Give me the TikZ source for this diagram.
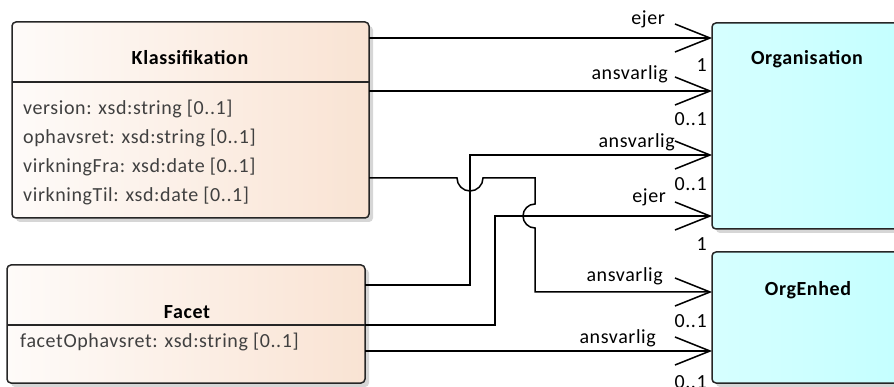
\documentclass[tikz,border=0pt]{standalone}
\usepackage{fontspec}
\setmainfont{Carlito}[LetterSpace=3]
\usetikzlibrary{arrows.meta,shadows}
\definecolor{klL}{RGB}{254,251,249}
\definecolor{klR}{RGB}{249,227,211}
\definecolor{orgL}{RGB}{214,255,255}
\definecolor{orgR}{RGB}{196,255,255}
\definecolor{attrc}{RGB}{64,64,64}
\definecolor{shadowgray}{RGB}{214,214,214}
\tikzset{
  boxline/.style={draw=black!85, line width=1.5pt},
  classbox/.style={boxline, rounded corners=4pt, inner sep=0pt, outer sep=0pt,
    left color=klL, right color=klR,
    general shadow={fill=shadowgray, shadow xshift=4pt, shadow yshift=-4pt}},
  orgbox/.style={boxline, rounded corners=4pt, inner sep=0pt, outer sep=0pt,
    left color=orgL, right color=orgR,
    general shadow={fill=shadowgray, shadow xshift=4pt, shadow yshift=-4pt}},
  titletxt/.style={font=\fontsize{20}{24}\selectfont\bfseries, inner sep=0pt, anchor=base},
  attrtxt/.style={font=\fontsize{20}{24}\selectfont, text=attrc, inner sep=0pt, anchor=base west},
  lbl/.style={font=\fontsize{20}{24}\selectfont, inner sep=0pt, anchor=base east},
  assoc/.style={line width=1.5pt, -{Straight Barb[length=35pt,width=28pt]}},
}
\begin{document}
\begin{tikzpicture}[x=1pt,y=-1pt]
\useasboundingbox (0,0) rectangle (894,387);
% row coordinates
\foreach \n/\yy in {a/38,b/91,c/155,d/178,e/216,f/285,g/292,h/325,i/351,k/82}
  {\coordinate (r\n) at (0,\yy);}
% boxes
\node[classbox, minimum width=357pt, minimum height=196pt] (klass) at (190.5,120) {};
\node[classbox, minimum width=358pt, minimum height=118pt] (facet) at (186,324) {};
\node[orgbox, minimum width=191pt, minimum height=206pt] (org) at (807.5,126) {};
\node[orgbox, minimum width=191pt, minimum height=131pt] (orgenhed) at (807.5,317.5) {};
\draw[boxline] (klass.west |- rk) -- (klass.east |- rk);
\draw[boxline] (facet.west |- rh) -- (facet.east |- rh);
% texts
\node[titletxt] (kt) at (190,65) {Klassifikation};
\node[attrtxt] (ka1) at (23,115) {version: xsd:string [0..1]};
\node[attrtxt] (ka2) at (23,144) {ophavsret: xsd:string [0..1]};
\node[attrtxt] (ka3) at (23,173) {virkningFra: xsd:date [0..1]};
\node[attrtxt] (ka4) at (23,202) {virkningTil: xsd:date [0..1]};
\node[titletxt] (ft) at (187,318) {Facet};
\node[attrtxt] (fa1) at (20,347) {facetOphavsret: xsd:string [0..1]};
\node[titletxt] (ot) at (807,65) {Organisation};
\node[titletxt] (et) at (808,296) {OrgEnhed};
% connectors
\draw[assoc] (klass.east |- ra) -- (org.west |- ra);
\draw[assoc] (klass.east |- rb) -- (org.west |- rb);
\draw[assoc] (facet.east |- rf) -- (470,285) -- (470,155) -- (org.west |- rc);
\draw[assoc] (facet.east |- rh) -- (495,325) -- (495,216) -- (org.west |- re);
\draw[assoc] (klass.east |- rd) -- (457,178) arc[start angle=180,end angle=360,radius=13pt]
  -- (535,178) -- (535,204) arc[start angle=90,end angle=270,radius=12pt]
  -- (535,292) -- (orgenhed.west |- rg);
\draw[assoc] (facet.east |- ri) -- (orgenhed.west |- ri);
% labels
\node[lbl] (l1) at (665,25) {ejer};
\node[lbl] (m1) at (707,72) {1};
\node[lbl] (l2) at (668,80) {ansvarlig};
\node[lbl] (m2) at (707,126) {0..1};
\node[lbl] (l3) at (675,148) {ansvarlig};
\node[lbl] (m3) at (707,191) {0..1};
\node[lbl] (l4) at (666,203) {ejer};
\node[lbl] (m4) at (707,251) {1};
\node[lbl] (l5) at (663,282) {ansvarlig};
\node[lbl] (m5) at (707,327) {0..1};
\node[lbl] (l6) at (656,343) {ansvarlig};
\node[lbl] (m6) at (707,388) {0..1};
\end{tikzpicture}
\end{document}
